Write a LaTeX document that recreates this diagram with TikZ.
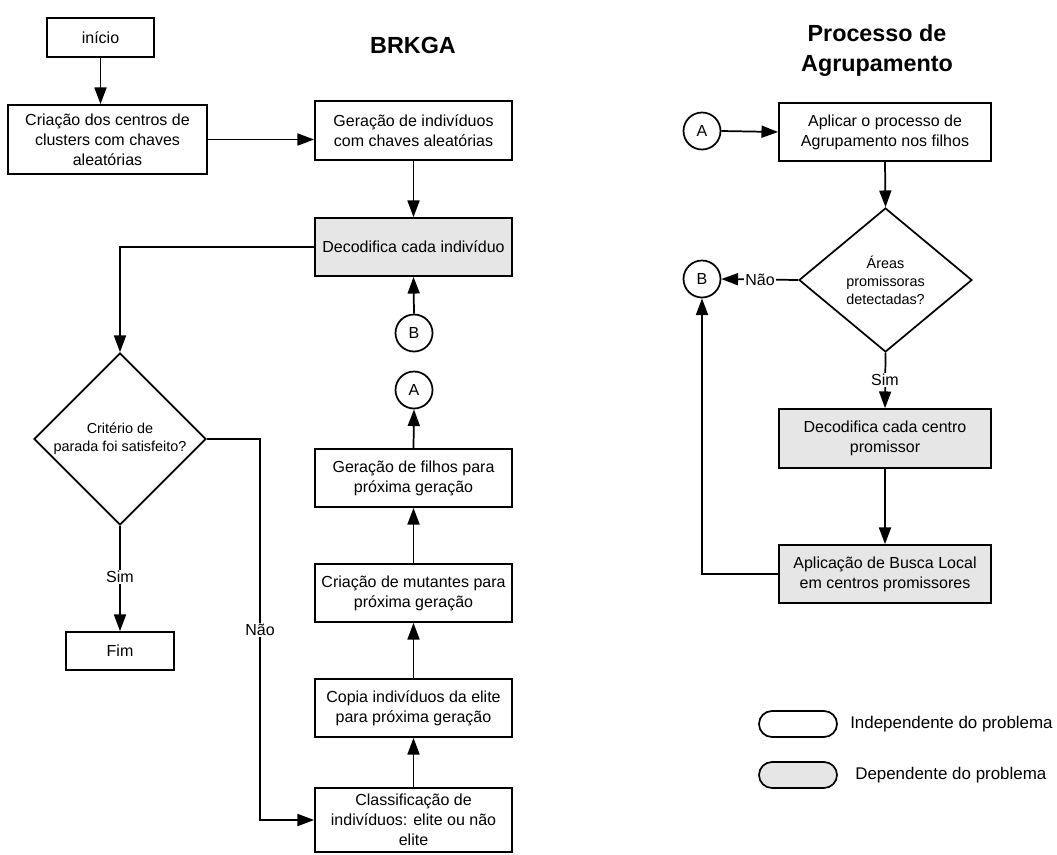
\documentclass[tikz,border=0pt]{standalone}
\usepackage{fontspec}
\setmainfont{Liberation Sans}
\usetikzlibrary{shapes.geometric,arrows.meta}
\definecolor{boxgray}{RGB}{230,230,230}
\newcommand\boxfont{\fontsize{12}{15}\selectfont}
\newcommand\legfont{\fontsize{12.7}{15}\selectfont}
\newcommand\decfont{\fontsize{10.8}{13.5}\selectfont}
\newcommand\titfont{\fontsize{17.5}{22.5}\selectfont\bfseries}
\begin{document}
\begin{tikzpicture}[x=0.75pt,y=-0.75pt,
  proc/.style={draw, line width=1.3pt, inner sep=2pt, align=center, font=\boxfont, minimum width=147.75pt, minimum height=43.5pt},
  rproc/.style={proc, minimum width=159pt},
  grayfill/.style={fill=boxgray},
  conn/.style={circle, draw, line width=1.3pt, minimum size=27.75pt, inner sep=0pt, font=\boxfont},
  dec/.style={diamond, draw, line width=1.3pt, inner sep=0pt, align=center, font=\decfont},
  arr/.style={line width=1.3pt, -{Triangle[length=12.5pt,width=9pt]}},
  lbl/.style={fill=white, inner sep=1pt, font=\boxfont},
  legbox/.style={draw, line width=1.3pt, rounded corners=9.75pt, minimum width=58.5pt, minimum height=19.5pt, inner sep=0pt},
  legtxt/.style={anchor=west, inner sep=0pt, font=\legfont},
  title/.style={align=center, font=\titfont}]
\useasboundingbox (0,0) rectangle (1057,854);

% titles
\node[title] (t1) at (413,45) {BRKGA};
\node[title] (t2) at (877,51) {Processo de\\Agrupamento};

% left part
\node[proc, minimum width=80.25pt, minimum height=29.25pt] (inicio) at (100.5,37.5) {início};
\node[proc, minimum width=149.25pt, minimum height=51.75pt] (criacao) at (107.5,139.5) {Criação dos centros de\\clusters com chaves\\aleatórias};
\node[proc, minimum height=44.25pt] (geracao) at (413.5,130.5) {Geração de indivíduos\\com chaves aleatórias};
\node[proc, grayfill] (decod) at (413.5,247) {Decodifica cada indivíduo};
\node[conn] (B1) at (414,333) {B};
\node[conn] (A1) at (414,390) {A};
\node[proc] (filhos) at (413.5,478) {Geração de filhos para\\próxima geração};
\node[proc] (mutantes) at (413.5,593) {Criação de mutantes para\\próxima geração};
\node[proc] (copia) at (413.5,708) {Copia indivíduos da elite\\para próxima geração};
\node[proc, minimum height=48pt] (classif) at (413.5,820) {Classificação de\\indivíduos: elite ou não\\elite};
\node[dec, minimum width=129pt, minimum height=129pt] (d1) at (120,439) {Critério de\\parada foi satisfeito?};
\node[proc, minimum width=81pt, minimum height=28.5pt] (fim) at (120,651) {Fim};

\draw[arr] (inicio.south) -- (inicio.south |- criacao.north);
\draw[arr] (criacao.east) -- (criacao.east -| geracao.west);
\draw[arr] (geracao.south) -- (decod.north);
\draw[arr] (decod.west) -| (d1.north);
\draw[arr] (B1.north) -- (decod.south);
\draw[arr] (filhos.north) -- (A1.south);
\draw[arr] (mutantes.north) -- (filhos.south);
\draw[arr] (copia.north) -- (mutantes.south);
\draw[arr] (classif.north) -- (copia.south);
\coordinate (n1) at (260,439);
\draw[arr] (d1.east) -- (n1) |- (classif.west);
\node[lbl] (nao1) at (260,630) {Não};
\draw[arr] (d1.south) -- (fim.north);
\node[lbl] (sim1) at (120,577) {Sim};

% right part
\node[conn] (A2) at (702,131) {A};
\node[conn] (B2) at (702,279) {B};
\node[rproc] (aplicar) at (885,132) {Aplicar o processo de\\Agrupamento nos filhos};
\node[dec, minimum width=129.75pt, minimum height=108pt] (d2) at (885.5,280) {Áreas\\promissoras\\detectadas?};
\node[rproc, grayfill, minimum height=44.25pt] (decc) at (885,438.5) {Decodifica cada centro\\promissor};
\node[rproc, grayfill] (busca) at (885,574) {Aplicação de Busca Local\\em centros promissores};

\draw[arr] (A2.east) -- (aplicar.west);
\draw[arr] (aplicar.south) -- (d2.north);
\draw[arr] (d2.west) -- (B2.east);
\node[lbl] (nao2) at (760,280) {Não};
\draw[arr] (d2.south) -- (decc.north);
\node[lbl] (sim2) at (885,380) {Sim};
\draw[arr] (decc.south) -- (busca.north);
\draw[arr] (busca.west) -| (B2.south);

% legend
\node[legbox] (lg1) at (798,724) {};
\node[legbox, grayfill] (lg2) at (798,775) {};
\node[legtxt] (lt1) at (850,724) {Independente do problema};
\node[legtxt] (lt2) at (855,775) {Dependente do problema};
\end{tikzpicture}
\end{document}
